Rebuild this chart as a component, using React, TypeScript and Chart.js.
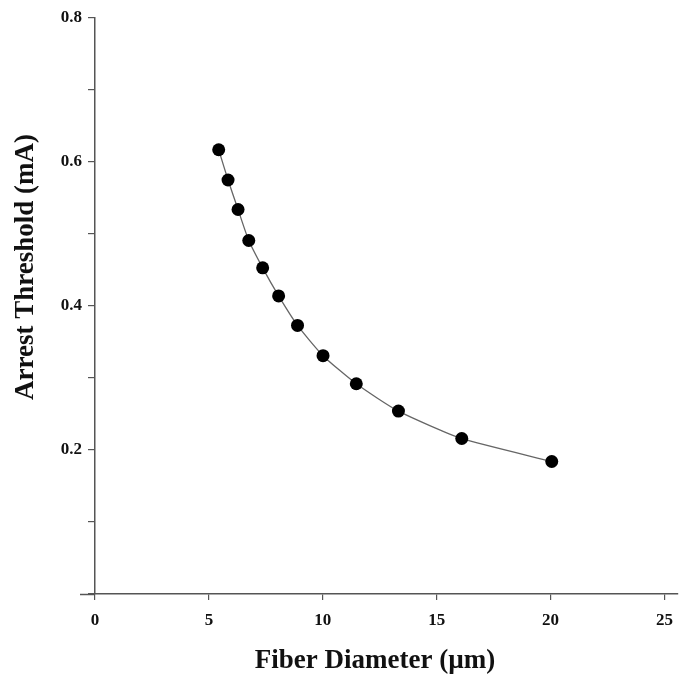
import React, { useEffect, useRef } from "react";
import { Chart, registerables } from "chart.js";

Chart.register(...registerables);

const diameters = [5.43, 5.84, 6.28, 6.75, 7.36, 8.06, 8.89, 10.01, 11.47, 13.32, 16.1, 20.05];
const thresholds = [0.617, 0.575, 0.534, 0.491, 0.453, 0.414, 0.373, 0.331, 0.292, 0.254, 0.216, 0.184];
const xTicks = [0, 5, 10, 15, 20, 25];
const yTicks = [0, 0.1, 0.2, 0.3, 0.4, 0.5, 0.6, 0.7, 0.8];
const yLabelled = [0.2, 0.4, 0.6, 0.8];
const xTitle = "Fiber Diameter (\u00b5m)";
const yTitle = "Arrest Threshold (mA)";

const AXIS = "#555555";
const FONT = "'Liberation Serif', 'Times New Roman', serif";

export default function App() {
  const ref = useRef<HTMLCanvasElement | null>(null);
  useEffect(() => {
    if (!ref.current) return;
    const extPlugin = {
      id: "axisExt",
      afterDraw(chart: any) {
        const ctx = chart.ctx;
        const a = chart.chartArea;
        ctx.save();
        ctx.strokeStyle = AXIS;
        ctx.lineWidth = 1.5;
        ctx.beginPath();
        ctx.moveTo(a.left - 15, a.bottom + 0.5);
        ctx.lineTo(a.left, a.bottom + 0.5);
        ctx.stroke();
        // axis titles
        ctx.fillStyle = "#111";
        ctx.font = `bold 27px ${FONT}`;
        ctx.textAlign = "center";
        ctx.textBaseline = "middle";
        ctx.fillText(xTitle, a.left + 280, a.bottom + 67);
        ctx.translate(a.left - 69, a.top + 249);
        ctx.rotate(-Math.PI / 2);
        ctx.fillText(yTitle, 0, 0);
        ctx.restore();
      },
    };
    const chart = new Chart(ref.current, {
      type: "scatter",
      data: {
        datasets: [
          {
            data: diameters.map((x, i) => ({ x, y: thresholds[i] })),
            showLine: true,
            borderColor: "#666666",
            borderWidth: 1.3,
            tension: 0.2,
            pointRadius: 6.5,
            pointBackgroundColor: "#000000",
            pointBorderColor: "#000000",
            pointBorderWidth: 0,
          },
        ],
      },
      plugins: [extPlugin],
      options: {
        responsive: false,
        animation: false,
        layout: { padding: { top: 18, right: 1, left: 0, bottom: 0 } },
        plugins: { legend: { display: false }, tooltip: { enabled: false } },
        scales: {
          x: {
            type: "linear",
            min: 0,
            max: 25.57,
            afterBuildTicks: (s: any) => {
              s.ticks = xTicks.map((v) => ({ value: v }));
            },
            afterFit: (s: any) => {
              s.height = 82;
            },
            grid: { display: true, drawOnChartArea: false, drawTicks: true, tickLength: 6, color: AXIS, lineWidth: 1.2 },
            border: { display: true, color: AXIS, width: 1.5 },
            ticks: {
              color: "#111",
              padding: 10,
              font: { family: FONT, size: 17, weight: "bold" },
              maxRotation: 0,
            },
          },
          y: {
            type: "linear",
            min: 0,
            max: 0.8,
            afterBuildTicks: (s: any) => {
              s.ticks = yTicks.map((v) => ({ value: v }));
            },
            afterFit: (s: any) => {
              s.width = 95;
            },
            grid: { display: true, drawOnChartArea: false, drawTicks: true, tickLength: 7, color: AXIS, lineWidth: 1.2 },
            border: { display: true, color: AXIS, width: 1.5 },
            ticks: {
              color: "#111",
              padding: 6,
              font: { family: FONT, size: 17, weight: "bold" },
              callback: (v: any) => {
                const n = Number(v);
                return yLabelled.some((t) => Math.abs(t - n) < 1e-6) ? n.toFixed(1) : "";
              },
            },
          },
        },
      },
    } as any);
    return () => chart.destroy();
  }, []);
  return (
    <div style={{ position: "fixed", left: 0, top: 0, width: 684, height: 676, background: "#fff" }}>
      <canvas ref={ref} width={684} height={676} style={{ display: "block" }} />
    </div>
  );
}
